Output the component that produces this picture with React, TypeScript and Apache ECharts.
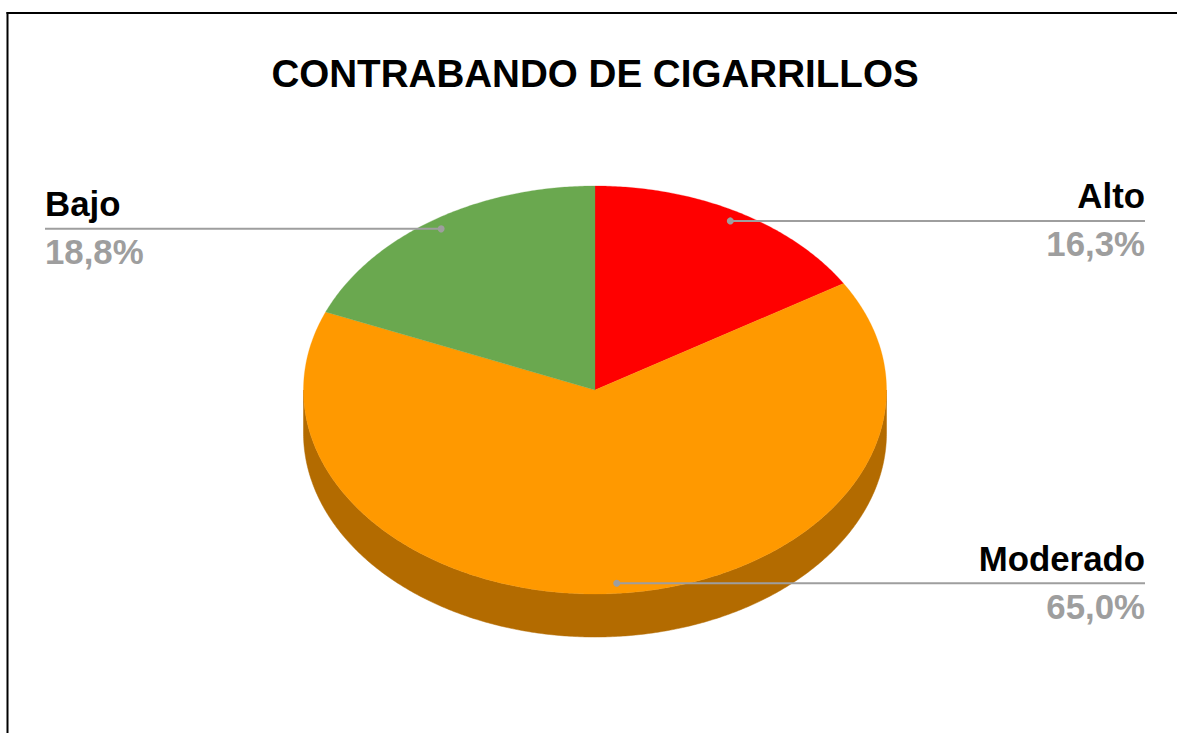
import React, { useEffect, useRef } from 'react';
import * as echarts from 'echarts';

const TITLE = 'CONTRABANDO DE CIGARRILLOS';
const categories = ['Alto', 'Moderado', 'Bajo'];
const values = [16.25, 65.0, 18.75];
const sliceColors = ['#ff0000', '#ff9900', '#6aa84f'];
const sideColors = ['#b30000', '#b36b00', '#4a7637'];

// layout
const CX = 595;
const CY = 390;
const RX = 291.5;
const RY = 204;
const DEPTH = 43;
const LABEL_LEFT = 45;
const LABEL_RIGHT = 1145;
const DOT_FRAC = 0.95;
const FONT = '"Liberation Sans", Arial, Helvetica, sans-serif';

function pt(theta: number, dy = 0, frac = 1): number[] {
  const a = (theta * Math.PI) / 180;
  return [CX + frac * RX * Math.sin(a), CY - frac * RY * Math.cos(a) + dy];
}

function arc(a0: number, a1: number, dy = 0): number[][] {
  const pts: number[][] = [];
  const n = Math.max(2, Math.ceil(Math.abs(a1 - a0) / 0.5));
  for (let k = 0; k <= n; k++) pts.push(pt(a0 + ((a1 - a0) * k) / n, dy));
  return pts;
}

const fmt = (v: number) => v.toFixed(1).replace('.', ',') + '%';

export default function App() {
  const ref = useRef<HTMLDivElement>(null);
  useEffect(() => {
    if (!ref.current) return;
    const chart = echarts.init(ref.current, undefined, { renderer: 'svg' });
    const total = values.reduce((a, b) => a + b, 0);
    chart.setOption({
      animation: false,
      backgroundColor: '#ffffff',
      title: {
        text: TITLE,
        left: 595,
        top: 54,
        textAlign: 'center',
        padding: 0,
        textStyle: { fontSize: 38.6, fontWeight: 'bold', color: '#000000', fontFamily: FONT },
      },
      graphic: [
        { type: 'line', shape: { x1: 6.5, y1: 13, x2: 1177, y2: 13 }, style: { stroke: '#000', lineWidth: 2 } },
        { type: 'line', shape: { x1: 7.5, y1: 12, x2: 7.5, y2: 733 }, style: { stroke: '#000', lineWidth: 2 } },
      ],
      series: [
        {
          type: 'custom',
          coordinateSystem: 'none',
          data: values.map((v, i) => ({ name: categories[i], value: v })),
          renderItem: (params: any, api: any) => {
            const i = params.dataIndex;
            const v = api.value(0);
            let before = 0;
            for (let k = 0; k < i; k++) before += values[k];
            const s = (before / total) * 360;
            const e = ((before + v) / total) * 360;
            const children: any[] = [];
            // side wall (front half only)
            const a0 = Math.max(s, 90);
            const a1 = Math.min(e, 270);
            if (a1 > a0) {
              const top = arc(a0, a1, 0);
              const bottom = arc(a1, a0, DEPTH);
              children.push({
                type: 'polygon',
                z2: 1,
                shape: { points: top.concat(bottom) },
                style: { fill: sideColors[i], stroke: sideColors[i], lineWidth: 0.5 },
              });
            }
            // top face
            children.push({
              type: 'polygon',
              z2: 10,
              shape: { points: [[CX, CY]].concat(arc(s, e, 0)) },
              style: { fill: sliceColors[i], stroke: sliceColors[i], lineWidth: 0.3 },
            });
            // label
            const mid = (s + e) / 2;
            const dot = pt(mid, 0, DOT_FRAC);
            const right = Math.sin((mid * Math.PI) / 180) > 0;
            const endX = right ? LABEL_RIGHT : LABEL_LEFT;
            children.push({
              type: 'line',
              z2: 20,
              shape: { x1: dot[0], y1: dot[1], x2: endX, y2: dot[1] },
              style: { stroke: '#9e9e9e', lineWidth: 2 },
            });
            children.push({
              type: 'circle',
              z2: 21,
              shape: { cx: dot[0], cy: dot[1], r: 3.5 },
              style: { fill: '#9e9e9e' },
            });
            children.push({
              type: 'text',
              z2: 22,
              style: {
                text: categories[i],
                x: endX,
                y: dot[1] - 25,
                align: right ? 'right' : 'left',
                verticalAlign: 'middle',
                fill: '#000000',
                fontSize: 34.8,
                fontWeight: 'bold',
                fontFamily: FONT,
              },
            });
            children.push({
              type: 'text',
              z2: 22,
              style: {
                text: fmt((v / total) * 100),
                x: endX,
                y: dot[1] + 23,
                align: right ? 'right' : 'left',
                verticalAlign: 'middle',
                fill: '#9e9e9e',
                fontSize: 34.8,
                fontWeight: 'bold',
                fontFamily: FONT,
              },
            });
            return { type: 'group', children };
          },
        },
      ],
    });
    return () => chart.dispose();
  }, []);
  return (
    <div
      ref={ref}
      style={{ position: 'fixed', left: 0, top: 0, width: 1177, height: 733 }}
    />
  );
}
